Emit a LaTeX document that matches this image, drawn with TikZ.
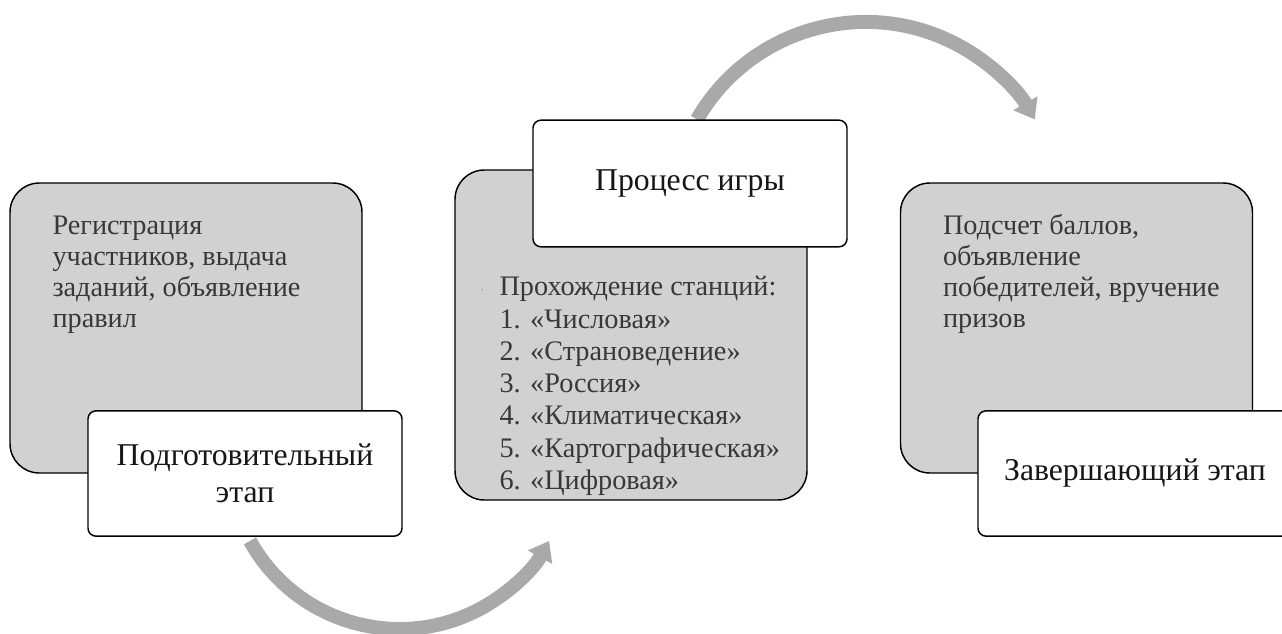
\documentclass[tikz,border=0pt]{standalone}
\usepackage{fontspec}
\setmainfont{Liberation Serif}
\usetikzlibrary{arrows.meta,calc,positioning,backgrounds}
\definecolor{gsInk}{HTML}{161616}
\definecolor{gsText}{HTML}{383838}
\definecolor{gsPanel}{HTML}{D1D1D1}
\definecolor{gsArrow}{HTML}{A9A9A9}
\tikzset{
 stages/.style={line join=round,x=.75pt,y=-.75pt},
 panel/.style={rectangle,draw=black,fill=gsPanel,line width=1.1pt,rounded corners=22pt,
   inner sep=0pt,minimum width=264pt,minimum height=217.5pt},
 titlebox/.style={rectangle,draw=black,fill=white,line width=1.1pt,rounded corners=6pt,
   inner sep=0pt,minimum width=235.5pt,minimum height=94pt,align=center,
   font=\fontsize{23.8}{27.75}\selectfont,text=gsInk},
 body/.style={anchor=north west,inner sep=0pt,align=left,text=gsText,
   font=\fontsize{21.2}{23.25}\selectfont},
 cyclearrow/.style={draw=gsArrow,line width=10.5pt,-{Triangle[width=20pt,length=14pt]}}
}
\begin{document}
\begin{tikzpicture}[stages]
 \useasboundingbox (0,0) rectangle (1282,633);
 % grey panels
 \node[panel] (pPrep) at (186,328) {};
 \node[panel,minimum height=247.5pt] (pGame) at (631,335) {};
 \node[panel] (pEnd) at (1076.5,328) {};
 \node[body] (sPrep) at ($(pPrep.north west)+(43,33)$)
   {Регистрация\\участников, выдача\\заданий, объявление\\правил};
 \node[body,font=\fontsize{21.2}{24.2}\selectfont] (sGame) at ($(pGame.north west)+(45,107)$)
   {\llap{\textcolor{gsArrow}{\fontsize{12}{12}\selectfont ·}\hspace{11pt}}Прохождение станций:\\
    1. «Числовая»\\2. «Страноведение»\\3. «Россия»\\4. «Климатическая»\\
    5. «Картографическая»\\6. «Цифровая»};
 \node[body] (sEnd) at ($(pEnd.north west)+(43,32)$)
   {Подсчет баллов,\\объявление\\победителей, вручение\\призов};
 % white title boxes
 \node[titlebox] (tPrep) at (245,473.5) {Подготовительный\\этап};
 \node[titlebox,minimum height=95pt] (tGame) at (690,183.5) {Процесс игры};
 \node[titlebox] (tEnd) at (1135,473.5) {Завершающий этап};
 % arrows between stages
 \begin{pgfonlayer}{background}
 \draw[cyclearrow] ($(tPrep.south)+(5,4)$) arc[start angle=151,end angle=29,radius=171];
 \draw[cyclearrow] ($(tGame.north)+(7,0)$) arc[start angle=210,end angle=330,radius=195];
 \end{pgfonlayer}
\end{tikzpicture}
\end{document}
